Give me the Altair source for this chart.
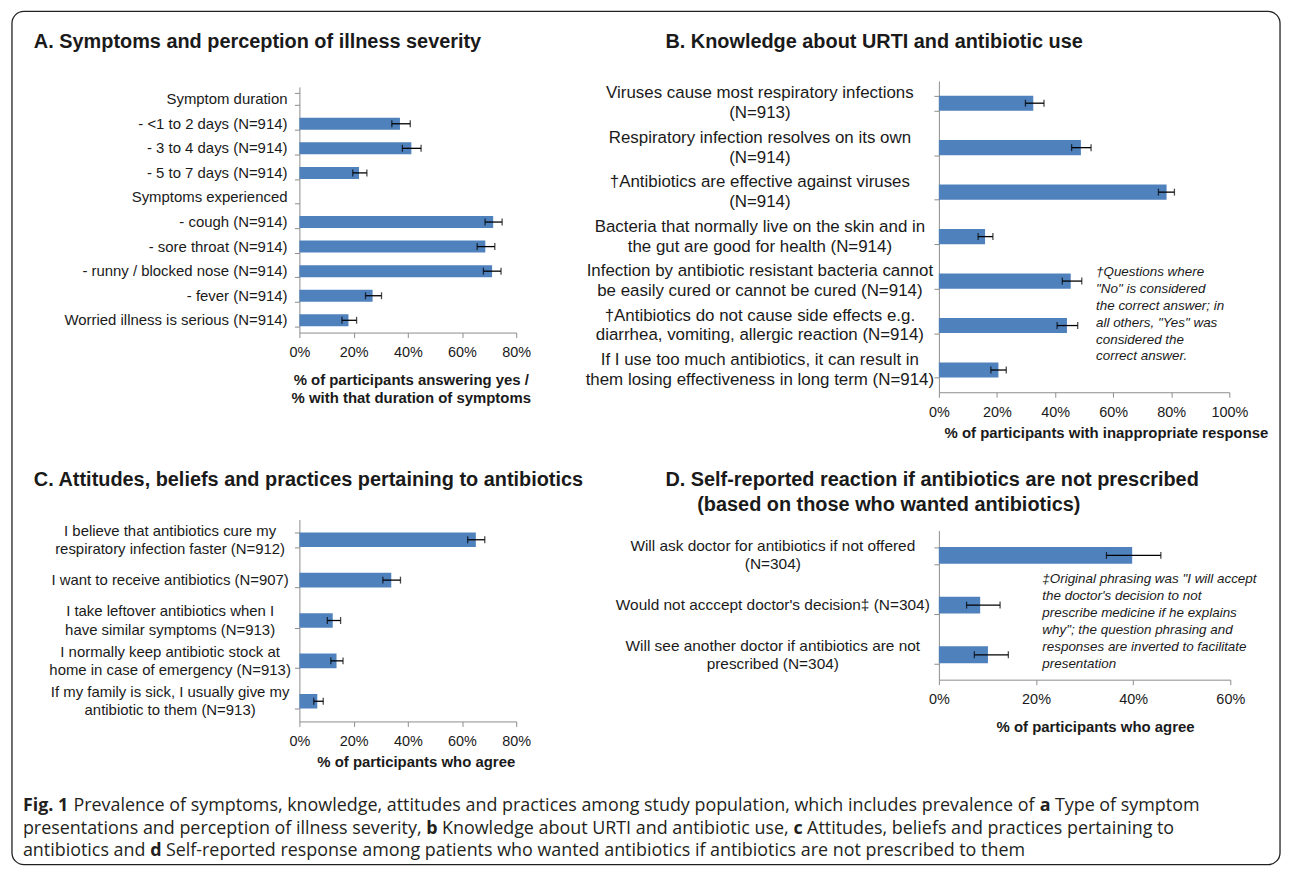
import altair as alt
import pandas as pd

FONT = "Liberation Sans"
CAP_FONT = "Open Sans"
BLUE = "#4F81BD"
GRAY = "#8c8c8c"
INK = "#1a1a1a"

# ---------------- data ----------------
a_labels = ["Symptom duration", "- <1 to 2 days (N=914)", "- 3 to 4 days (N=914)", "- 5 to 7 days (N=914)",
            "Symptoms experienced", "- cough (N=914)", "- sore throat (N=914)",
            "- runny / blocked nose (N=914)", "- fever (N=914)", "Worried illness is serious (N=914)"]
a_pct = [None, 37.1, 41.3, 22.0, None, 71.5, 68.6, 71.1, 27.0, 18.1]
a_low = [None, 34.1, 38.0, 19.7, None, 68.5, 65.6, 67.9, 24.4, 15.7]
a_high = [None, 40.9, 44.9, 24.9, None, 74.8, 72.1, 74.4, 30.3, 21.1]

b_labels = ["Viruses cause most respiratory infections|(N=913)",
            "Respiratory infection resolves on its own|(N=914)",
            "\u2020Antibiotics are effective against viruses|(N=914)",
            "Bacteria that normally live on the skin and in|the gut are good for health (N=914)",
            "Infection by antibiotic resistant bacteria cannot|be easily cured or cannot be cured (N=914)",
            "\u2020Antibiotics do not cause side effects e.g.|diarrhea, vomiting, allergic reaction (N=914)",
            "If I use too much antibiotics, it can result in|them losing effectiveness in long term (N=914)"]
b_pct = [32.5, 48.9, 78.4, 15.9, 45.4, 44.1, 20.5]
b_low = [29.8, 45.7, 75.6, 13.5, 42.5, 40.7, 17.9]
b_high = [36.2, 52.4, 81.1, 18.6, 49.2, 47.8, 23.2]

c_labels = ["I believe that antibiotics cure my|respiratory infection faster (N=912)",
            "I want to receive antibiotics (N=907)",
            "I take leftover antibiotics when I|have similar symptoms (N=913)",
            "I normally keep antibiotic stock at|home in case of emergency (N=913)",
            "If my family is sick, I usually give my|antibiotic to them (N=913)"]
c_pct = [65.1, 33.9, 12.3, 13.7, 6.6]
c_low = [62.1, 30.8, 10.3, 11.6, 5.3]
c_high = [68.4, 37.3, 15.2, 16.1, 8.8]

d_labels = ["Will ask doctor for antibiotics if not offered|(N=304)",
            "Would not acccept doctor's decision\u2021 (N=304)",
            "Will see another doctor if antibiotics are not|prescribed (N=304)"]
d_pct = [39.8, 8.5, 10.1]
d_low = [34.5, 5.7, 7.3]
d_high = [45.7, 12.6, 14.3]

title_a = "A. Symptoms and perception of illness severity"
title_b = "B. Knowledge about URTI and antibiotic use"
title_c = "C. Attitudes, beliefs and practices pertaining to antibiotics"
title_d1 = "D. Self-reported reaction if antibiotics are not prescribed"
title_d2 = "(based on those who wanted antibiotics)"

xtitle_a = ["% of participants answering yes /", "% with that duration of symptoms"]
xtitle_b = "% of participants with inappropriate response"
xtitle_c = "% of participants who agree"
xtitle_d = "% of participants who agree"

note_b = ["\u2020Questions where", "\"No\" is considered", "the correct answer; in",
          "all others, \"Yes\" was", "considered the", "correct answer."]
note_d = ["\u2021Original phrasing was \"I will accept", "the doctor's decision to not",
          "prescribe medicine if he explains", "why\"; the question phrasing and",
          "responses are inverted to facilitate", "presentation"]

caption_lines = [
    [("Fig. 1", True),
     ("Prevalence of symptoms, knowledge, attitudes and practices among study population, which includes prevalence of", False),
     ("a", True), ("Type of symptom", False)],
    [("presentations and perception of illness severity,", False), ("b", True),
     ("Knowledge about URTI and antibiotic use,", False), ("c", True),
     ("Attitudes, beliefs and practices pertaining to", False)],
    [("antibiotics and", False), ("d", True),
     ("Self-reported response among patients who wanted antibiotics if antibiotics are not prescribed to them", False)],
]

# ---- approximate Open Sans advance widths (em) used to flow the caption segments ----
_REG = {" ": .260, ",": .245, ".": .266, "-": .322, "A": .633, "F": .532, "I": .297, "K": .602,
        "P": .604, "R": .627, "S": .551, "T": .554, "U": .716, "a": .556, "b": .613, "c": .476,
        "d": .613, "e": .561, "f": .339, "g": .548, "h": .614, "i": .253, "j": .253, "k": .525,
        "l": .253, "m": .930, "n": .614, "o": .604, "p": .613, "q": .613, "r": .408, "s": .477,
        "t": .353, "u": .614, "v": .501, "w": .778, "x": .524, "y": .502, "z": .477}
_BOLD = {" ": .260, ".": .292, "1": .572, "F": .579, "a": .586, "b": .619, "c": .494, "d": .619,
         "g": .575, "i": .286}


def em_width(s, bold):
    table = _BOLD if bold else _REG
    return sum(table.get(ch, .56) for ch in s)


CAP_SIZE = 18
CAP_LEFT = 22 - 300          # relative to panel C origin
caption_y = [288, 311, 333]


def text_layer(s, x, y, size, weight="normal", style="normal", align="left",
               baseline="middle", color=INK, lh=None, font=FONT):
    props = dict(align=align, baseline=baseline, fontSize=size, fontWeight=weight,
                 fontStyle=style, font=font, color=color)
    if lh is not None:
        props["lineHeight"] = lh
        props["lineBreak"] = "\n"
    return alt.Chart(pd.DataFrame({"t": [s]})).mark_text(**props).encode(
        text="t:N", x=alt.value(x), y=alt.value(y))


def panel(labels, pct, low, high, xmax, height, top, pad_inner, lab_align, lab_pad, lab_size,
          lab_lh, xtitle, title_x, title_y):
    full = pd.DataFrame({"item": labels, "pct": pct, "low": low, "high": high})
    df = full.dropna()
    yaxis = alt.Axis(title=None, labels=False, tickBand="extent", tickSize=5,
                     tickColor=GRAY, domainColor=GRAY, grid=False)
    yenc = alt.Y("item:N", sort=labels,
                 scale=alt.Scale(type="band", domain=labels, range=[top, height],
                                 paddingInner=pad_inner, paddingOuter=pad_inner / 2),
                 axis=yaxis)
    xaxis = alt.Axis(values=list(range(0, xmax + 1, 20)), labelExpr="datum.value + '%'",
                     grid=False, tickSize=5, labelFlush=False, labelPadding=8,
                     labelFontSize=14.5, labelFont=FONT, labelColor=INK, tickColor=GRAY,
                     domainColor=GRAY, title=xtitle, titleFont=FONT, titleFontSize=15,
                     titleFontWeight="bold", titleColor=INK, titleX=title_x, titleY=title_y,
                     titleAlign="center", titleBaseline="alphabetic", titleLineHeight=18)

    def xenc(field):
        return alt.X(f"{field}:Q", scale=alt.Scale(domain=[0, xmax], nice=False), axis=xaxis)

    base = alt.Chart(df)
    bars = base.mark_bar(color=BLUE).encode(x=xenc("pct"), y=yenc)
    rule = base.mark_rule(color="black", strokeWidth=1.3).encode(x=xenc("low"), x2="high:Q", y=yenc)
    cap_lo = base.mark_tick(color="black", size=7, thickness=1.3).encode(x=xenc("low"), y=yenc)
    cap_hi = base.mark_tick(color="black", size=7, thickness=1.3).encode(x=xenc("high"), y=yenc)

    # category labels: one layer for single-line, one (shifted up) for two-line labels
    lab_x = -(5 + lab_pad)
    lab_props = dict(align=lab_align, baseline="middle", fontSize=lab_size, font=FONT,
                     color=INK, lineBreak="|", lineHeight=lab_lh)
    lab1 = alt.Chart(full).transform_filter("indexof(datum.item, '|') < 0").mark_text(
        **lab_props).encode(y=yenc, x=alt.value(lab_x), text="item:N")
    lab2 = alt.Chart(full).transform_filter("indexof(datum.item, '|') >= 0").mark_text(
        dy=-lab_lh / 2, **lab_props).encode(y=yenc, x=alt.value(lab_x), text="item:N")
    return [bars, rule, cap_lo, cap_hi, lab1, lab2]


A = alt.layer(
    *panel(a_labels, a_pct, a_low, a_high, 80, 253, 6, 0.51, "right", 7, 15, 18,
           xtitle_a, 112, 52),
    text_layer(title_a, -267, -39, 20, weight="bold"),
).properties(width=218, height=253)

B = alt.layer(
    *panel(b_labels, b_pct, b_low, b_high, 100, 313, 0, 0.66, "center", 175, 17, 20,
           xtitle_b, 168, 46),
    text_layer(title_b, -275, -39, 20, weight="bold"),
    text_layer("\n".join(note_b), 158, 196, 13.5, style="italic", baseline="alphabetic", lh=17),
).properties(width=292, height=313)

# caption and outer frame are drawn from panel C's origin
cap_layers = [alt.Chart(pd.DataFrame({"t": [""]})).mark_rect(
    fillOpacity=0, stroke="#222222", strokeWidth=1.3, cornerRadius=12).encode(
    x=alt.value(-289), x2=alt.value(986), y=alt.value(-511), y2=alt.value(347))]
for segs, y in zip(caption_lines, caption_y):
    x = CAP_LEFT
    for s, bold in segs:
        cap_layers.append(text_layer(s, x, y, CAP_SIZE, weight="bold" if bold else "normal",
                                     color="#231f20", font=CAP_FONT))
        x += (em_width(s, bold) + _REG[" "]) * CAP_SIZE

C = alt.layer(
    *panel(c_labels, c_pct, c_low, c_high, 80, 203, 0, 0.64, "center", 125, 15, 18.5,
           xtitle_c, 117, 45),
    text_layer(title_c, -267, -40, 20, weight="bold"),
    *cap_layers,
).properties(width=218, height=203)

D = alt.layer(
    *panel(d_labels, d_pct, d_low, d_high, 60, 161, 11, 0.66, "center", 162, 15.5, 18.3,
           xtitle_d, 157, 52),
    text_layer(title_d1, -275, -40, 20, weight="bold"),
    text_layer(title_d2, -243, -15, 20, weight="bold"),
    text_layer("\n".join(note_d), 104, 64, 13.5, style="italic", baseline="alphabetic", lh=17),
).properties(width=293, height=161)

chart = alt.concat(A, B, C, D, columns=2, spacing={"row": 128, "column": 425},
                   bounds="flush").properties(
    padding={"left": 3, "top": 0, "right": 3, "bottom": 0}
).configure_view(strokeWidth=0)

chart.save("out.html", embed_options={"renderer": "svg", "actions": False})
